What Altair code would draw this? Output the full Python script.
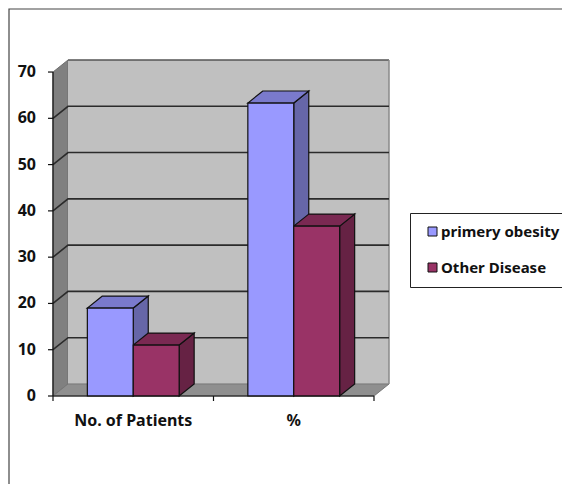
import altair as alt
import pandas as pd

categories = ["No. of Patients", "%"]
series_names = ["primery obesity", "Other Disease"]
primery_obesity = [19, 63.3]
other_disease = [11, 36.7]
y_ticks = [0, 10, 20, 30, 40, 50, 60, 70]
x_ticks = [0, 1, 2]

FRONT = {"primery obesity": "#9999FF", "Other Disease": "#993366"}
TOP = {"primery obesity": "#7A7ACC", "Other Disease": "#7A2952"}
SIDE = {"primery obesity": "#6666A8", "Other Disease": "#662244"}
DX, DY = 0.0935, 2.6
BAR_W = 0.286
YMAX = 70
XMAX = len(categories)
FONT = "Noto Sans"
INK = "#111111"

xs = alt.Scale(domain=[0, XMAX + DX], nice=False, zero=False)
ys = alt.Scale(domain=[0, YMAX + DY], nice=False)
X = lambda f="x": alt.X(f + ":Q", scale=xs, axis=None, stack=None)
Y = lambda f="y": alt.Y(f + ":Q", scale=ys, axis=None, stack=None)

rows = []
for name, vals, off in zip(series_names, [primery_obesity, other_disease], [-1, 0]):
    for i, v in enumerate(vals):
        left = i + 0.5 + off * BAR_W
        rows.append(dict(series=name, cat=categories[i], left=left, right=left + BAR_W, v=v))
bars = pd.DataFrame(rows)

def df(**k):
    return pd.DataFrame(k)

frame = alt.Chart(df(a=[0])).mark_rect(filled=False, stroke="#444444", strokeWidth=1.2).encode(
    x=alt.value(-44), x2=alt.value(600), y=alt.value(-51), y2=alt.value(500))

# walls and floor
wall_left = alt.Chart(df(x=[0, DX], y=[0, DY], y2=[YMAX, YMAX + DY])).mark_area(
    color="#808080", stroke="#6e6e6e", strokeWidth=1).encode(X(), Y(), y2="y2:Q")
wall_back = alt.Chart(df(x=[DX], x2=[XMAX + DX], y=[DY], y2=[YMAX + DY])).mark_rect(
    color="#C0C0C0").encode(X(), x2="x2:Q", y=Y(), y2="y2:Q")
wall_edge_top = alt.Chart(df(x=[DX], x2=[XMAX + DX], y=[YMAX + DY])).mark_rule(
    color="#555555", strokeWidth=1.5).encode(X(), x2="x2:Q", y=Y())
wall_edge_right = alt.Chart(df(x=[XMAX + DX], y=[DY], y2=[YMAX + DY])).mark_rule(
    color="#8a8a8a", strokeWidth=1.5).encode(X(), y=Y(), y2="y2:Q")
floor = alt.Chart(df(y=[0, DY], x=[0, DX], x2=[XMAX, XMAX + DX])).mark_area(
    orient="horizontal", color="#8F8F8F", stroke="#777777", strokeWidth=1).encode(X(), x2="x2:Q", y=Y())

# gridlines running over the left wall and along the back wall
grid_rows = []
for t in y_ticks[1:-1]:
    grid_rows += [dict(t=t, x=0, y=t), dict(t=t, x=DX, y=t + DY), dict(t=t, x=XMAX + DX, y=t + DY)]
grid = alt.Chart(pd.DataFrame(grid_rows)).mark_line(color="#2b2b2b", strokeWidth=1.6).encode(
    X(), Y(), detail="t:N")

# bar faces
layers = [frame, wall_left, wall_back, floor, wall_edge_top, wall_edge_right, grid]
for _, b in bars.iterrows():
    side = df(x=[b.right, b.right + DX], y=[b.v, b.v + DY], y2=[0, DY])
    layers.append(alt.Chart(side).mark_area(color=SIDE[b.series], stroke=INK, strokeWidth=1.2).encode(
        X(), Y(), y2="y2:Q"))
for _, b in bars.iterrows():
    top = df(y=[b.v, b.v + DY], x=[b.left, b.left + DX], x2=[b.right, b.right + DX])
    layers.append(alt.Chart(top).mark_area(orient="horizontal", color=TOP[b.series], stroke=INK,
                                           strokeWidth=1.2).encode(X(), x2="x2:Q", y=Y()))
front = alt.Chart(bars).mark_rect(stroke=INK, strokeWidth=1.2).encode(
    x=alt.X("left:Q", scale=xs, axis=None),
    x2="right:Q",
    y=alt.Y("v:Q", scale=ys, axis=None),
    y2=alt.datum(0),
    color=alt.Color("series:N",
                    scale=alt.Scale(domain=series_names, range=[FRONT[s] for s in series_names]),
                    legend=alt.Legend(title=None, orient="none", legendX=357, legendY=153,
                                      fillColor="white", strokeColor="#222222", padding=11,
                                      symbolType="square", symbolSize=81, symbolStrokeColor=INK,
                                      symbolStrokeWidth=1, symbolOpacity=1, symbolOffset=4, rowPadding=20,
                                      labelFont=FONT, labelFontSize=15, labelFontWeight="bold",
                                      labelColor=INK, labelLimit=220, labelOffset=1)),
)
layers.append(front)

# axis lines, ticks and tick labels
x_line = alt.Chart(df(x=[0], x2=[XMAX], y=[0])).mark_rule(color=INK, strokeWidth=1.2).encode(
    X(), x2="x2:Q", y=Y())
y_line = alt.Chart(df(x=[0], y=[0], y2=[YMAX])).mark_rule(color=INK, strokeWidth=1.2).encode(
    X(), y=Y(), y2="y2:Q")
y_tick_marks = alt.Chart(df(y=y_ticks)).mark_rule(color=INK, strokeWidth=1.2).encode(
    x=alt.value(-5), x2=alt.value(0), y=Y())
x_tick_marks = alt.Chart(df(x=x_ticks)).mark_rule(color=INK, strokeWidth=1.2).encode(
    X(), y=alt.value(336), y2=alt.value(341))
y_labels = alt.Chart(df(y=y_ticks, label=[str(t) for t in y_ticks])).mark_text(
    align="right", baseline="middle", font=FONT, fontSize=16, fontWeight="bold", color=INK).encode(
    x=alt.value(-17), y=Y(), text="label:N")
x_labels = alt.Chart(df(x=[0.5, 1.5], label=categories)).mark_text(
    align="center", baseline="middle", font=FONT, fontSize=16, fontWeight="bold", color=INK).encode(
    X(), y=alt.value(361), text="label:N")
layers += [x_line, y_line, y_tick_marks, x_tick_marks, y_labels, x_labels]

chart = alt.layer(*layers).properties(
    width=336, height=336,
    padding={"left": 45, "top": 52, "right": 173, "bottom": 88},
    autosize=alt.AutoSizeParams(type="none", contains="content"),
    background="white",
).configure_view(stroke=None)

chart.save("out.html", embed_options={"renderer": "svg", "actions": False})
